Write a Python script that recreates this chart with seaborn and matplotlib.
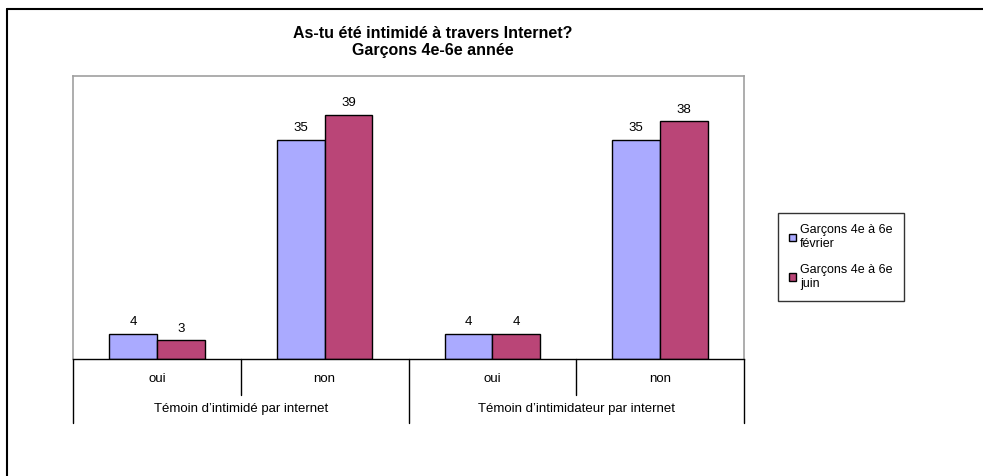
import matplotlib
matplotlib.use("Agg")
import matplotlib.pyplot as plt
import matplotlib.transforms as mtransforms
from matplotlib.lines import Line2D
from matplotlib.patches import Patch
import pandas as pd
import seaborn as sns

# data
groups = ["Témoin d’intimidé par internet", "Témoin d’intimidateur par internet"]
answers = ["oui", "non"]
series = ["Garçons 4e à 6e\nfévrier", "Garçons 4e à 6e\njuin"]
fevrier = [4, 35, 4, 35]
juin = [3, 39, 4, 38]
colors = ["#AAAAFF", "#BA4577"]

cats = [f"{g}|{a}" for g in groups for a in answers]
df = pd.DataFrame({
    "cat": cats * 2,
    "serie": [series[0]] * 4 + [series[1]] * 4,
    "value": fevrier + juin,
})

sns.set_theme(style="white")
plt.rcParams["font.family"] = ["Liberation Sans", "DejaVu Sans"]
plt.rcParams["text.color"] = "black"

W, H = 983, 476
fig = plt.figure(figsize=(W / 100, H / 100), dpi=100)
ax = fig.add_axes([73 / W, 1 - 359 / H, (744 - 73) / W, (359 - 76) / H])

sns.barplot(data=df, x="cat", y="value", hue="serie", order=cats, hue_order=series,
            palette=colors, saturation=1, width=0.57, edgecolor="black",
            linewidth=1.0, legend=False, ax=ax)

for cont in ax.containers:
    ax.bar_label(cont, padding=4, fontsize=9.5, color="black")

ax.set_ylim(0, 45.2)
ax.set_xlim(-0.5, 3.5)
ax.set_xlabel("")
ax.set_ylabel("")
ax.set_xticks([])
ax.set_yticks([])
for side in ["left", "top", "right"]:
    ax.spines[side].set_color("#A0A0A0")
    ax.spines[side].set_linewidth(1.2)
ax.spines["bottom"].set_color("black")
ax.spines["bottom"].set_linewidth(1.0)

# two-level category axis below the plot
trans = mtransforms.blended_transform_factory(ax.transData, ax.transAxes)
short_y = (359 - 395) / (359 - 76)
long_y = (359 - 423) / (359 - 76)
for i, x in enumerate([-0.5, 0.5, 1.5, 2.5, 3.5]):
    y_end = long_y if i % 2 == 0 else short_y
    ax.add_line(Line2D([x, x], [0, y_end], transform=trans, color="black",
                       linewidth=1.0, clip_on=False))
for i, c in enumerate(cats):
    ax.text(i, (359 - 379) / (359 - 76), c.split("|")[1], transform=trans,
            ha="center", va="center", fontsize=9.5)
for j, g in enumerate(groups):
    ax.text(2 * j + 0.5, (359 - 409) / (359 - 76), g, transform=trans,
            ha="center", va="center", fontsize=9.5)

fig.text(433 / W, 1 - 34 / H, "As-tu été intimidé à travers Internet?",
         ha="center", va="center", fontsize=11.5, fontweight="bold")
fig.text(433 / W, 1 - 50 / H, "Garçons 4e-6e année",
         ha="center", va="center", fontsize=11.5, fontweight="bold")

handles = [Patch(facecolor=c, edgecolor="black", linewidth=1.0) for c in colors]
leg = fig.legend(handles, series, loc="center left",
                 bbox_to_anchor=(778 / W, 1 - 257 / H), fontsize=9,
                 frameon=True, fancybox=False, edgecolor="black",
                 handlelength=0.55, handleheight=0.55, handletextpad=0.3,
                 labelspacing=1.1, borderpad=0.9, borderaxespad=0)
leg.get_frame().set_linewidth(1.0)

# outer frame of the original picture (only top and left visible)
fig.add_artist(Line2D([7 / W, 1], [1 - 9 / H, 1 - 9 / H], transform=fig.transFigure,
                      color="black", linewidth=1.5))
fig.add_artist(Line2D([7 / W, 7 / W], [0, 1 - 9 / H], transform=fig.transFigure,
                      color="black", linewidth=1.5))

fig.savefig("out.png", dpi=100)
